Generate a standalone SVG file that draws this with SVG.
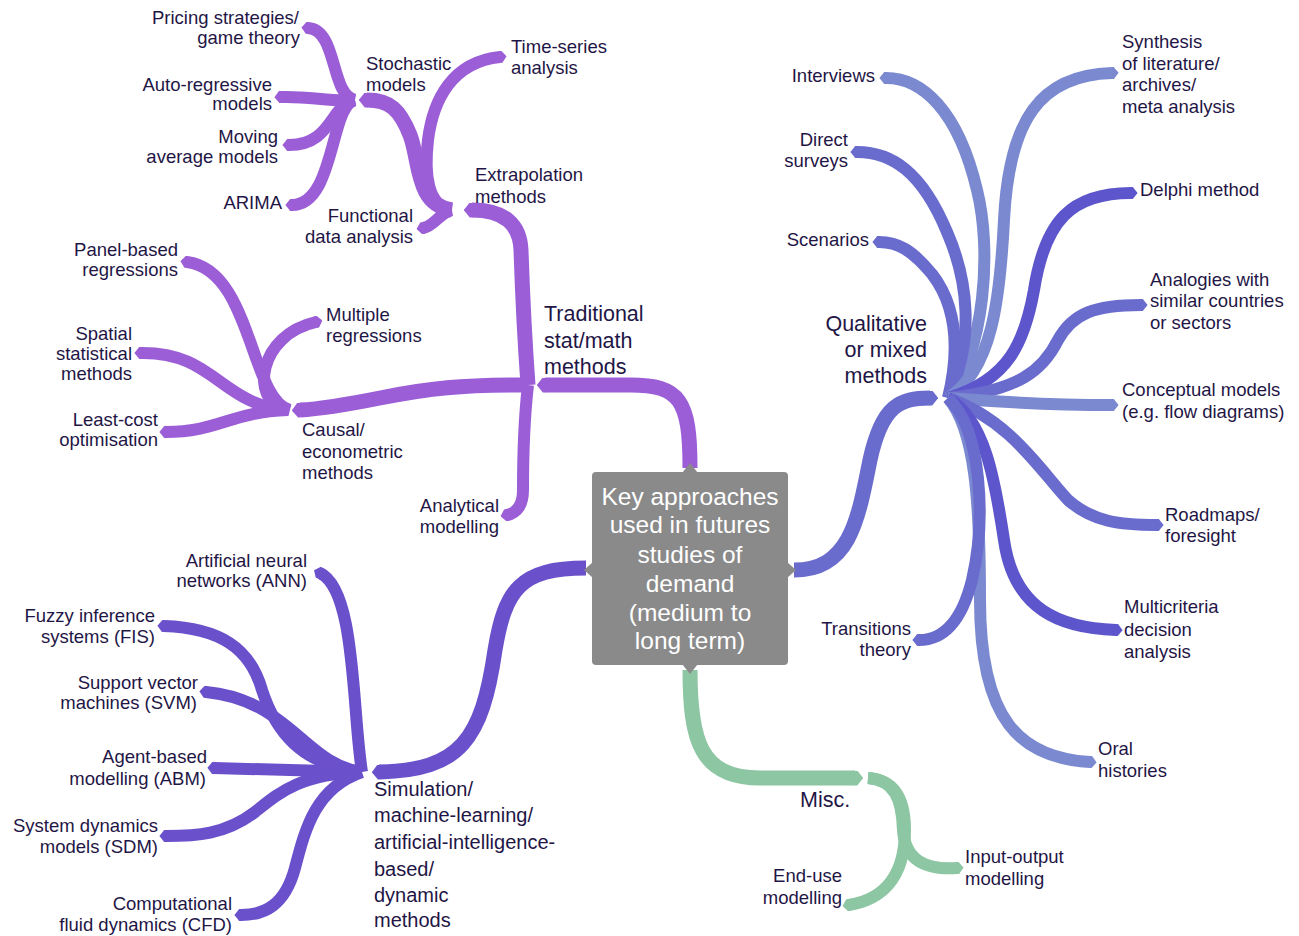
<svg xmlns="http://www.w3.org/2000/svg" width="1299" height="936" viewBox="0 0 1299 936">
<style>
text{font-family:"Liberation Sans",Arial,sans-serif;fill:#1f1646;font-size:18.5px}
.e{text-anchor:end}
.m{font-size:21.5px}
.sm{font-size:20px}
.s17{font-size:18.5px}
.c{fill:#ffffff;font-size:24.5px;text-anchor:middle}
path.b{fill:none;stroke-linecap:butt;stroke-linejoin:round}
.lf{stroke-width:12}
.mn{stroke-width:15}
.trad{stroke:#9c5ed6;marker-end:url(#mt-trad)}
.sim{stroke:#6b50cc;marker-end:url(#mt-sim)}
.q1{stroke:#6a6ccd;marker-end:url(#mt-q1)}
.q2{stroke:#7b8ad0;marker-end:url(#mt-q2)}
.q3{stroke:#5d55cb;marker-end:url(#mt-q3)}
.misc{stroke:#8cc6a2;marker-end:url(#mt-misc)}
</style>
<defs>
<marker id="mt-trad" viewBox="0 -5 6 10" refX="0.5" refY="0" markerWidth="0.6" markerHeight="1" orient="auto" markerUnits="strokeWidth"><path d="M0,-5 L2,-5 L6,0 L2,5 L0,5 Z" fill="#9c5ed6"/></marker>
<marker id="mt-sim" viewBox="0 -5 6 10" refX="0.5" refY="0" markerWidth="0.6" markerHeight="1" orient="auto" markerUnits="strokeWidth"><path d="M0,-5 L2,-5 L6,0 L2,5 L0,5 Z" fill="#6b50cc"/></marker>
<marker id="mt-q1" viewBox="0 -5 6 10" refX="0.5" refY="0" markerWidth="0.6" markerHeight="1" orient="auto" markerUnits="strokeWidth"><path d="M0,-5 L2,-5 L6,0 L2,5 L0,5 Z" fill="#6a6ccd"/></marker>
<marker id="mt-q2" viewBox="0 -5 6 10" refX="0.5" refY="0" markerWidth="0.6" markerHeight="1" orient="auto" markerUnits="strokeWidth"><path d="M0,-5 L2,-5 L6,0 L2,5 L0,5 Z" fill="#7b8ad0"/></marker>
<marker id="mt-q3" viewBox="0 -5 6 10" refX="0.5" refY="0" markerWidth="0.6" markerHeight="1" orient="auto" markerUnits="strokeWidth"><path d="M0,-5 L2,-5 L6,0 L2,5 L0,5 Z" fill="#5d55cb"/></marker>
<marker id="mt-misc" viewBox="0 -5 6 10" refX="0.5" refY="0" markerWidth="0.6" markerHeight="1" orient="auto" markerUnits="strokeWidth"><path d="M0,-5 L2,-5 L6,0 L2,5 L0,5 Z" fill="#8cc6a2"/></marker>
</defs>
<rect width="1299" height="936" fill="#ffffff"/>

<g id="connectors">
<!-- Traditional -->
<path class="b mn trad" d="M690,468 C690,400 680,385 630,385 L545,385"/>
<path class="b mn trad" d="M528,385 C524,330 522,280 521,250 C520,225 505,210 472,210"/>
<path class="b lf trad" d="M528,385 C524,420 523,470 523,490 C523,505 517,513 507,515"/>
<path class="b mn trad" d="M528,385 C460,385 430,388 380,398 C340,406 320,409 300,410"/>
<path class="b lf trad" d="M452,210 C440,212 435,226 423,228"/>
<path class="b mn trad" d="M452,210 C415,205 420,160 410,135 C400,110 390,100 367,100"/>
<path class="b lf trad" d="M450,210 C428,205 424,175 428,140 C433,100 452,62 500,57"/>
<path class="b lf trad" d="M355,100 C330,95 338,30 308,28"/>
<path class="b lf trad" d="M355,100 C330,102 310,96 281,97"/>
<path class="b lf trad" d="M355,100 C330,105 332,145 289,145"/>
<path class="b lf trad" d="M355,100 C330,105 335,205 292,205"/>
<path class="b lf trad" d="M290,410 C250,400 252,270 187,262"/>
<path class="b lf trad" d="M285,410 C250,400 258,335 316,322"/>
<path class="b lf trad" d="M288,410 C220,405 215,352 141,353"/>
<path class="b lf trad" d="M288,410 C230,412 218,432 166,432"/>
<!-- Simulation -->
<path class="b mn sim" d="M586,568 C520,568 505,590 495,650 C482,740 460,770 380,772"/>
<path class="b lf sim" d="M362,772 C352,710 356,590 320,573"/>
<path class="b lf sim" d="M362,772 C300,765 275,730 262,690 C250,648 220,628 164,626"/>
<path class="b lf sim" d="M362,772 C305,765 290,700 206,692"/>
<path class="b lf sim" d="M362,772 L214,768"/>
<path class="b lf sim" d="M362,772 C300,774 280,792 255,812 C225,835 195,836 166,836"/>
<path class="b lf sim" d="M362,772 C315,788 305,830 295,868 C285,905 265,915 241,915"/>
<!-- Qualitative -->
<path class="b mn q1" d="M794,570 C850,570 858,520 870,460 C882,405 900,398 930,398"/>
<path class="b lf q2" d="M948,398 C985,350 992,250 977,190 C958,110 922,78 886,78"/>
<path class="b lf q1" d="M948,398 C975,340 968,280 947,232 C922,172 892,152 857,152"/>
<path class="b lf q1" d="M948,398 C962,340 952,300 932,274 C912,250 898,242 879,242"/>
<path class="b lf q2" d="M948,398 C992,370 1000,300 1004,220 C1009,120 1040,75 1112,73"/>
<path class="b lf q3" d="M948,398 C1010,380 1025,340 1034,290 C1045,220 1072,193 1131,193"/>
<path class="b lf q1" d="M948,398 C1020,390 1043,370 1058,340 C1073,313 1095,305 1141,305"/>
<path class="b lf q2" d="M948,398 C1000,402 1050,405 1112,405"/>
<path class="b lf q1" d="M948,398 C1010,420 1040,470 1068,500 C1093,522 1120,525 1157,525"/>
<path class="b lf q3" d="M948,398 C985,420 995,480 1004,540 C1014,610 1060,628 1116,630"/>
<path class="b lf q2" d="M948,398 C975,430 980,500 980,600 C980,720 1020,758 1090,762"/>
<path class="b lf q1" d="M948,398 C982,430 986,520 972,580 C962,620 944,640 919,640"/>
<!-- Misc -->
<path class="b mn misc" d="M690,670 C690,740 700,778 760,778 L855,778"/>
<path class="b lf misc" d="M868,778 C895,780 905,800 905,830 C905,880 880,900 849,905"/>
<path class="b lf misc" d="M868,778 C895,780 902,800 903,830 C905,860 925,870 957,868"/>
</g>

<g id="center">
<rect x="592" y="472" width="196" height="193" rx="4" fill="#8a8a8a"/>
<polygon points="682,473 690,463 698,473" fill="#8a8a8a"/>
<polygon points="593,562 584,570 593,578" fill="#8a8a8a"/>
<polygon points="787,562 796,570 787,578" fill="#8a8a8a"/>
<polygon points="682,664 690,674 698,664" fill="#8a8a8a"/>
<text class="c" x="690" y="505">Key approaches</text>
<text class="c" x="690" y="533">used in futures</text>
<text class="c" x="690" y="563">studies of</text>
<text class="c" x="690" y="592">demand</text>
<text class="c" x="690" y="621">(medium to</text>
<text class="c" x="690" y="649">long term)</text>
</g>

<g id="traditional"><text class="m" x="544" y="321">Traditional</text><text class="m" x="544" y="348">stat/math</text><text class="m" x="544" y="374">methods</text></g>
<g id="extrapolation"><text class="s17" x="475" y="181">Extrapolation</text><text class="s17" x="475" y="203">methods</text></g>
<g id="stochastic"><text x="366" y="70">Stochastic</text><text x="366" y="91">models</text></g>
<g id="timeseries"><text x="511" y="53">Time-series</text><text x="511" y="74">analysis</text></g>
<g id="pricing"><text class="e" x="299" y="24">Pricing strategies/</text><text class="e" x="300" y="44">game theory</text></g>
<g id="autoreg"><text class="e" x="272" y="91">Auto-regressive</text><text class="e" x="272" y="110">models</text></g>
<g id="movingavg"><text class="e" x="278" y="143">Moving</text><text class="e" x="278" y="163">average models</text></g>
<g id="arima"><text class="e" x="282" y="209">ARIMA</text></g>
<g id="functional"><text class="e" x="413" y="222">Functional</text><text class="e" x="413" y="243">data analysis</text></g>
<g id="causal"><text class="s17" x="302" y="436">Causal/</text><text class="s17" x="302" y="458">econometric</text><text class="s17" x="302" y="479">methods</text></g>
<g id="panel"><text class="e" x="178" y="256">Panel-based</text><text class="e" x="178" y="276">regressions</text></g>
<g id="multiple"><text x="326" y="321">Multiple</text><text x="326" y="342">regressions</text></g>
<g id="spatial"><text class="e" x="132" y="340">Spatial</text><text class="e" x="132" y="360">statistical</text><text class="e" x="132" y="380">methods</text></g>
<g id="leastcost"><text class="e" x="158" y="426">Least-cost</text><text class="e" x="158" y="446">optimisation</text></g>
<g id="analytical"><text class="s17 e" x="499" y="512">Analytical</text><text class="s17 e" x="499" y="533">modelling</text></g>

<g id="simulation"><text class="sm" x="374" y="796">Simulation/</text><text class="sm" x="374" y="822">machine-learning/</text><text class="sm" x="374" y="849">artificial-intelligence-</text><text class="sm" x="374" y="876">based/</text><text class="sm" x="374" y="902">dynamic</text><text class="sm" x="374" y="927">methods</text></g>
<g id="ann"><text class="e" x="307" y="567">Artificial neural</text><text class="e" x="307" y="587">networks (ANN)</text></g>
<g id="fis"><text class="e" x="155" y="622">Fuzzy inference</text><text class="e" x="155" y="643">systems (FIS)</text></g>
<g id="svm"><text class="e" x="198" y="689">Support vector</text><text class="e" x="197" y="709">machines (SVM)</text></g>
<g id="abm"><text class="e" x="207" y="763">Agent-based</text><text class="e" x="206" y="785">modelling (ABM)</text></g>
<g id="sdm"><text class="e" x="158" y="832">System dynamics</text><text class="e" x="158" y="853">models (SDM)</text></g>
<g id="cfd"><text class="e" x="232" y="910">Computational</text><text class="e" x="232" y="931">fluid dynamics (CFD)</text></g>

<g id="qualitative"><text class="m e" x="927" y="331">Qualitative</text><text class="m e" x="927" y="357">or mixed</text><text class="m e" x="927" y="383">methods</text></g>
<g id="interviews"><text class="e" x="875" y="82">Interviews</text></g>
<g id="surveys"><text class="e" x="848" y="146">Direct</text><text class="e" x="848" y="167">surveys</text></g>
<g id="scenarios"><text class="e" x="869" y="246">Scenarios</text></g>
<g id="synthesis"><text x="1122" y="48">Synthesis</text><text x="1122" y="70">of literature/</text><text x="1122" y="91">archives/</text><text x="1122" y="113">meta analysis</text></g>
<g id="delphi"><text x="1140" y="196">Delphi method</text></g>
<g id="analogies"><text x="1150" y="286">Analogies with</text><text x="1150" y="307">similar countries</text><text x="1150" y="329">or sectors</text></g>
<g id="conceptual"><text x="1122" y="396">Conceptual models</text><text x="1122" y="418">(e.g. flow diagrams)</text></g>
<g id="roadmaps"><text x="1165" y="521">Roadmaps/</text><text x="1165" y="542">foresight</text></g>
<g id="multicriteria"><text x="1124" y="613">Multicriteria</text><text x="1124" y="636">decision</text><text x="1124" y="658">analysis</text></g>
<g id="oral"><text x="1098" y="755">Oral</text><text x="1098" y="777">histories</text></g>
<g id="transitions"><text class="e" x="911" y="635">Transitions</text><text class="e" x="911" y="656">theory</text></g>

<g id="misc"><text class="m" x="800" y="807">Misc.</text></g>
<g id="enduse"><text class="e" x="842" y="882">End-use</text><text class="e" x="842" y="904">modelling</text></g>
<g id="inputoutput"><text x="965" y="863">Input-output</text><text x="965" y="885">modelling</text></g>
</svg>
